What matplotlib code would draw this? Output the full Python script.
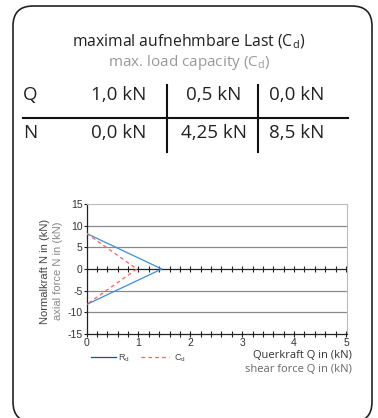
import matplotlib.pyplot as plt
import numpy as np
from matplotlib.patches import FancyBboxPatch
from matplotlib.ticker import MultipleLocator

plt.rcParams['mathtext.default'] = 'regular'
plt.rcParams['axes.unicode_minus'] = False

# table values
q_values = ["1,0 kN", "0,5 kN", "0,0 kN"]
n_values = ["0,0 kN", "4,25 kN", "8,5 kN"]

# curves: shear force Q vs axial force N
rd_q = [0, 1.45, 0]
rd_n = [8.2, 0, -8.2]
cd_q = [0, 0.97, 0]
cd_n = [8.2, 0, -8.2]

y_ticks = [15, 10, 5, 0, -5, -10, -15]
x_ticks = [0, 1, 2, 3, 4, 5]

TXT = "Open Sans"
SANS = "Liberation Sans"

fig = plt.figure(figsize=(3.78, 4.18), dpi=100)

# background layer in pixel coordinates
bg = fig.add_axes([0, 0, 1, 1])
bg.set_xlim(0, 378)
bg.set_ylim(418, 0)
bg.axis("off")
bg.add_patch(FancyBboxPatch((13, 6), 359, 416, boxstyle="round,pad=0,rounding_size=20",
                            fc="white", ec="#222222", lw=1.2))

bg.text(189, 42, "maximal aufnehmbare Last (C$_d$)", ha="center", va="center",
        fontsize=11.3, family=TXT, color="#222222")
bg.text(189, 63, "max. load capacity (C$_d$)", ha="center", va="center",
        fontsize=11, family=TXT, color="#999999")

# table
row1, row2 = 95, 133
bg.text(23, row1, "Q", ha="left", va="center", fontsize=13.5, family=TXT, color="#222222")
bg.text(23, row2, "N", ha="left", va="center", fontsize=13.5, family=TXT, color="#222222")
col_x = [119, 214, 297]
for x, q, n in zip(col_x, q_values, n_values):
    bg.text(x, row1, q, ha="center", va="center", fontsize=13.5, family=TXT, color="#222222")
    bg.text(x, row2, n, ha="center", va="center", fontsize=13.5, family=TXT, color="#222222")
bg.plot([23, 348], [117.5, 117.5], color="#111111", lw=1.5)
bg.plot([167, 167], [85, 152], color="#111111", lw=1.5)
bg.plot([258, 258], [85, 152], color="#111111", lw=1.5)

# chart
ax = fig.add_axes([0.229, 0.201, 0.689, 0.311])
ax.plot(rd_q, rd_n, color="#3d8fd8", lw=0.9, zorder=3)
ax.plot(cd_q, cd_n, color="#ff6060", lw=0.9, ls=(0, (3, 2.5)), zorder=3)
ax.set_xlim(0, 5.02)
ax.set_ylim(-15, 15)
ax.set_yticks(y_ticks)
ax.set_xticks(x_ticks)
ax.xaxis.set_minor_locator(MultipleLocator(0.2))
for y in [10, 5, -5, -10]:
    ax.axhline(y, color="#8a8a8a", lw=0.9, zorder=1)
ax.axhline(0, color="#222222", lw=0.9, zorder=2)
zt = np.arange(0, 5.01, 0.2)
ax.plot(zt, np.zeros_like(zt), ls="none", marker="|", ms=4, mew=0.8, color="#222222", zorder=2)

for s in ["top", "right"]:
    ax.spines[s].set_color("#bbbbbb")
    ax.spines[s].set_linewidth(0.8)
for s in ["left", "bottom"]:
    ax.spines[s].set_color("#222222")
    ax.spines[s].set_linewidth(0.9)
ax.tick_params(axis="x", which="both", direction="inout", length=4, width=0.8,
               color="#222222", labelsize=7.5, labelcolor="#333333", pad=1)
ax.tick_params(axis="y", direction="out", length=2, width=0.8, color="#222222",
               labelsize=7.5, labelcolor="#333333", pad=1)
for lab in ax.get_xticklabels() + ax.get_yticklabels():
    lab.set_family(SANS)

# axis labels
fig.text(45 / 378, 1 - 271 / 418, "Normalkraft N in (kN)", rotation=90, ha="center", va="center",
         fontsize=8, family=SANS, color="#444444")
fig.text(58 / 378, 1 - 271 / 418, "axial force N in (kN)", rotation=90, ha="center", va="center",
         fontsize=8, family=SANS, color="#888888")
fig.text(352 / 378, 1 - 356 / 418, "Querkraft Q in (kN)", ha="right", va="center",
         fontsize=8, family=TXT, color="#333333")
fig.text(352 / 378, 1 - 370 / 418, "shear force Q in (kN)", ha="right", va="center",
         fontsize=8, family=TXT, color="#666666")

# legend
bg.plot([91, 116], [357, 357], color="#1f4f8f", lw=0.9)
bg.text(118, 358, "R$_d$", ha="left", va="center", fontsize=6.5, family=SANS, color="#444444")
bg.plot([141, 169], [357, 357], color="#ff6060", lw=0.9, ls=(0, (3, 2.5)))
bg.text(174, 358, "C$_d$", ha="left", va="center", fontsize=6.5, family=SANS, color="#444444")

fig.savefig("out.png", dpi=100)
